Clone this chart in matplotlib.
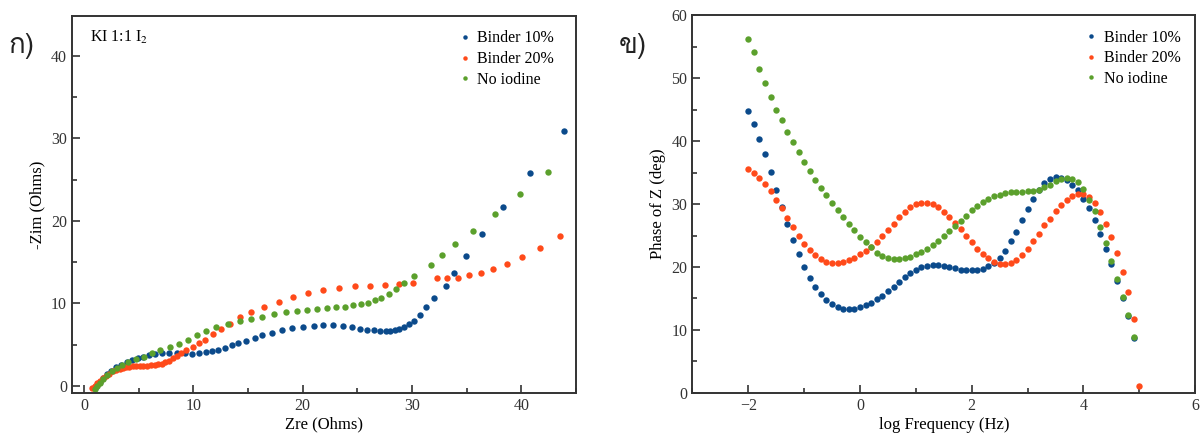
import matplotlib
matplotlib.use("Agg")
import matplotlib.pyplot as plt
from matplotlib import font_manager
from matplotlib.ticker import MultipleLocator
from matplotlib.ft2font import FT2Font

plt.rcParams['font.family'] = ['Liberation Serif', 'DejaVu Serif']
plt.rcParams['mathtext.fontset'] = 'stix'

# --- Nyquist (left) ---
zre_10 = [1.0, 1.2, 1.45, 1.75, 2.1, 2.5, 2.95, 3.4, 3.9, 4.4, 4.9, 5.4, 5.9, 6.5, 7.1,
          7.8, 8.5, 9.2, 9.9, 10.5, 11.2, 11.7, 12.3, 12.9, 13.5, 14.1, 14.8, 15.6, 16.3,
          17.2, 18.1, 19.0, 20.0, 21.0, 21.9, 22.8, 23.7, 24.5, 25.2, 25.9, 26.5, 27.1,
          27.6, 28.0, 28.4, 28.85, 29.25, 29.7, 30.2, 30.7, 31.3, 32.0, 33.1, 33.8, 34.9,
          36.4, 38.3, 40.8, 43.9]
zim_10 = [-0.3, 0.1, 0.5, 0.95, 1.4, 1.85, 2.25, 2.55, 2.85, 3.1, 3.35, 3.55, 3.7, 3.85,
          3.95, 3.95, 3.95, 3.95, 3.9, 3.95, 4.05, 4.2, 4.4, 4.65, 4.9, 5.15, 5.5, 5.8,
          6.15, 6.45, 6.75, 7.0, 7.15, 7.3, 7.35, 7.35, 7.25, 7.1, 6.95, 6.8, 6.72, 6.68,
          6.68, 6.68, 6.72, 6.9, 7.1, 7.5, 7.9, 8.6, 9.55, 10.6, 12.05, 13.7, 15.7, 18.4,
          21.7, 25.8, 30.9]

zre_20 = [0.77, 1.0, 1.22, 1.46, 1.71, 2.0, 2.32, 2.62, 2.93, 3.25, 3.55, 3.85, 4.15,
          4.45, 4.76, 5.1, 5.4, 5.75, 6.1, 6.45, 6.8, 7.1, 7.45, 7.8, 8.15, 8.5, 8.9,
          9.35, 9.95, 10.5, 11.1, 11.8, 12.5, 13.35, 14.3, 15.3, 16.5, 17.8, 19.1, 20.5,
          21.9, 23.35, 24.8, 26.2, 27.5, 28.85, 30.1, 32.3, 33.2, 34.2, 35.25, 36.3,
          37.4, 38.7, 40.1, 41.7, 43.55]
zim_20 = [-0.3, 0.0, 0.3, 0.6, 0.9, 1.2, 1.5, 1.75, 1.95, 2.1, 2.2, 2.3, 2.35, 2.4, 2.4,
          2.45, 2.45, 2.45, 2.5, 2.55, 2.6, 2.7, 2.85, 3.05, 3.35, 3.65, 3.95, 4.3, 4.7,
          5.15, 5.6, 6.25, 6.9, 7.55, 8.3, 8.9, 9.6, 10.2, 10.75, 11.25, 11.6, 11.85,
          12.05, 12.15, 12.2, 12.3, 12.45, 13.05, 13.05, 13.1, 13.4, 13.65, 14.1, 14.75,
          15.6, 16.75, 18.2]

zre_0 = [1.0, 1.22, 1.46, 1.77, 2.13, 2.53, 2.99, 3.5, 4.05, 4.76, 5.5, 6.2, 6.95, 7.87,
         8.7, 9.55, 10.3, 11.2, 12.1, 13.15, 14.3, 15.3, 16.3, 17.4, 18.5, 19.5, 20.4,
         21.3, 22.2, 23.05, 23.85, 24.6, 25.3, 25.95, 26.6, 27.2, 27.85, 28.5, 29.3,
         30.2, 31.7, 32.7, 33.9, 35.6, 37.6, 39.9, 42.45]
zim_0 = [-0.4, -0.05, 0.35, 0.85, 1.35, 1.75, 2.15, 2.55, 2.9, 3.25, 3.55, 3.95, 4.35,
         4.7, 5.1, 5.6, 6.2, 6.7, 7.1, 7.5, 7.9, 8.15, 8.4, 8.65, 8.9, 9.05, 9.2, 9.3,
         9.4, 9.5, 9.6, 9.75, 9.9, 10.1, 10.35, 10.65, 11.15, 11.7, 12.5, 13.3, 14.7,
         15.8, 17.2, 18.8, 20.8, 23.2, 25.9]

# --- Bode phase (right) ---
logf = [-2.0, -1.9, -1.8, -1.7, -1.6, -1.5, -1.4, -1.3, -1.2, -1.1, -1.0, -0.9, -0.8,
        -0.7, -0.6, -0.5, -0.4, -0.3, -0.2, -0.1, 0.0, 0.1, 0.2, 0.3, 0.4, 0.5, 0.6,
        0.7, 0.8, 0.9, 1.0, 1.1, 1.2, 1.3, 1.4, 1.5, 1.6, 1.7, 1.8, 1.9, 2.0, 2.1, 2.2,
        2.3, 2.4, 2.5, 2.6, 2.7, 2.8, 2.9, 3.0, 3.1, 3.2, 3.3, 3.4, 3.5, 3.6, 3.7, 3.8,
        3.9, 4.0, 4.1, 4.2, 4.3, 4.4, 4.5, 4.6, 4.7, 4.8, 4.9, 5.0]

phase_10 = [44.7, 42.7, 40.4, 37.9, 35.1, 32.3, 29.6, 26.8, 24.3, 22.0, 20.0, 18.3, 16.9,
            15.7, 14.8, 14.1, 13.7, 13.4, 13.3, 13.4, 13.7, 13.9, 14.3, 14.9, 15.4, 16.2,
            16.9, 17.6, 18.4, 19.0, 19.6, 20.0, 20.2, 20.3, 20.3, 20.2, 20.0, 19.8, 19.6,
            19.5, 19.5, 19.6, 19.7, 20.1, 20.7, 21.4, 22.6, 24.1, 25.6, 27.4, 29.2, 30.8,
            32.2, 33.4, 34.0, 34.3, 34.2, 33.8, 33.1, 32.2, 30.8, 29.3, 27.5, 25.3, 22.9,
            20.4, 17.8, 15.0, 12.2, 8.8]
phase_20 = [35.5, 35.0, 34.2, 33.2, 32.0, 30.7, 29.3, 27.8, 26.3, 25.0, 23.7, 22.7, 21.9,
            21.2, 20.8, 20.6, 20.6, 20.8, 21.1, 21.5, 22.0, 22.5, 23.1, 23.9, 24.9, 25.9,
            26.9, 27.9, 28.8, 29.5, 30.0, 30.2, 30.2, 30.0, 29.5, 28.7, 28.0, 27.0, 26.0,
            24.9, 24.0, 22.9, 22.1, 21.4, 20.8, 20.5, 20.4, 20.6, 21.1, 21.9, 22.9, 24.1,
            25.3, 26.7, 27.7, 28.9, 29.9, 30.7, 31.3, 31.6, 31.6, 31.1, 30.2, 28.7, 26.9,
            24.7, 22.2, 19.2, 16.1, 11.8, 1.1]
phase_0 = [56.2, 54.1, 51.5, 49.2, 47.0, 45.0, 43.3, 41.5, 39.8, 38.2, 36.7, 35.2, 33.8,
           32.6, 31.4, 30.2, 29.0, 27.9, 26.9, 25.8, 24.8, 23.9, 23.1, 22.3, 21.7, 21.4,
           21.3, 21.3, 21.4, 21.6, 22.0, 22.4, 22.9, 23.5, 24.2, 25.0, 25.7, 26.5, 27.3,
           28.1, 29.0, 29.7, 30.3, 30.8, 31.3, 31.5, 31.7, 31.9, 31.9, 31.9, 32.0, 32.1,
           32.3, 32.7, 33.1, 33.6, 34.0, 34.2, 34.0, 33.5, 32.4, 30.6, 28.9, 26.4, 23.8,
           21.0, 18.1, 15.2, 12.4, 8.9]

labels = ['Binder 10%', 'Binder 20%', 'No iodine']
colors = ['#0b4a8b', '#ff4a1a', '#5ba02c']


# font that has Thai glyphs for the panel letters
def thai_font():
    for f in font_manager.fontManager.ttflist:
        try:
            if 0x0E01 in FT2Font(f.fname).get_charmap():
                return f.name
        except Exception:
            pass
    return 'DejaVu Sans'


thai = thai_font()

fig = plt.figure(figsize=(12, 4.45), dpi=100)
ax1 = fig.add_axes([0.060, 0.117, 0.420, 0.847])
ax2 = fig.add_axes([0.577, 0.117, 0.419, 0.849])


def style(ax):
    for s in ax.spines.values():
        s.set_linewidth(1.4)
        s.set_color('#333333')
    ax.tick_params(which='both', direction='in', top=False, right=False,
                   labelsize=11.5, colors='#333333', width=1.2)
    ax.tick_params(which='major', length=6)
    ax.tick_params(which='minor', length=3.5)


ms = 4.6
ax1.plot(zre_10, zim_10, 'o', ms=ms, mec='none', color=colors[0], label=labels[0])
ax1.plot(zre_20, zim_20, 'o', ms=ms, mec='none', color=colors[1], label=labels[1])
ax1.plot(zre_0, zim_0, 'o', ms=ms, mec='none', color=colors[2], label=labels[2])
ax1.set_xlim(-1.1, 45)
ax1.set_ylim(-0.85, 44.8)
ax1.xaxis.set_major_locator(MultipleLocator(10))
ax1.xaxis.set_minor_locator(MultipleLocator(5))
ax1.yaxis.set_major_locator(MultipleLocator(10))
ax1.yaxis.set_minor_locator(MultipleLocator(5))
ax1.set_xlabel('Zre (Ohms)', fontsize=12, labelpad=2)
ax1.set_ylabel('-Zim (Ohms)', fontsize=12, labelpad=4)
style(ax1)
ax1.text(0.035, 0.965, 'KI 1:1 I$_2$', transform=ax1.transAxes, ha='left', va='top',
         fontsize=11.5)
ax1.legend(loc='upper right', bbox_to_anchor=(0.985, 1.0), frameon=False, fontsize=11.5,
           handlelength=0.6, handletextpad=0.5, markerscale=0.7, labelspacing=0.3)

ax2.plot(logf[:len(phase_10)], phase_10, 'o', ms=ms, mec='none', color=colors[0],
         label=labels[0])
ax2.plot(logf[:len(phase_20)], phase_20, 'o', ms=ms, mec='none', color=colors[1],
         label=labels[1])
ax2.plot(logf[:len(phase_0)], phase_0, 'o', ms=ms, mec='none', color=colors[2],
         label=labels[2])
ax2.set_xlim(-3, 6)
ax2.set_ylim(0, 60)
ax2.xaxis.set_major_locator(MultipleLocator(2))
ax2.xaxis.set_minor_locator(MultipleLocator(1))
ax2.yaxis.set_major_locator(MultipleLocator(10))
ax2.yaxis.set_minor_locator(MultipleLocator(5))
ax2.set_xlabel('log Frequency (Hz)', fontsize=12, labelpad=2)
ax2.set_ylabel('Phase of Z (deg)', fontsize=12, labelpad=4)
style(ax2)
ax2.legend(loc='upper right', bbox_to_anchor=(1.0, 1.0), frameon=False, fontsize=11.5,
           handlelength=0.6, handletextpad=0.5, markerscale=0.7, labelspacing=0.3)

fig.text(0.007, 0.88, 'ก)', fontsize=20, family=[thai, 'DejaVu Sans'], color='#222222')
fig.text(0.516, 0.88, 'ข)', fontsize=20, family=[thai, 'DejaVu Sans'], color='#222222')

fig.savefig('out.png', dpi=100)
